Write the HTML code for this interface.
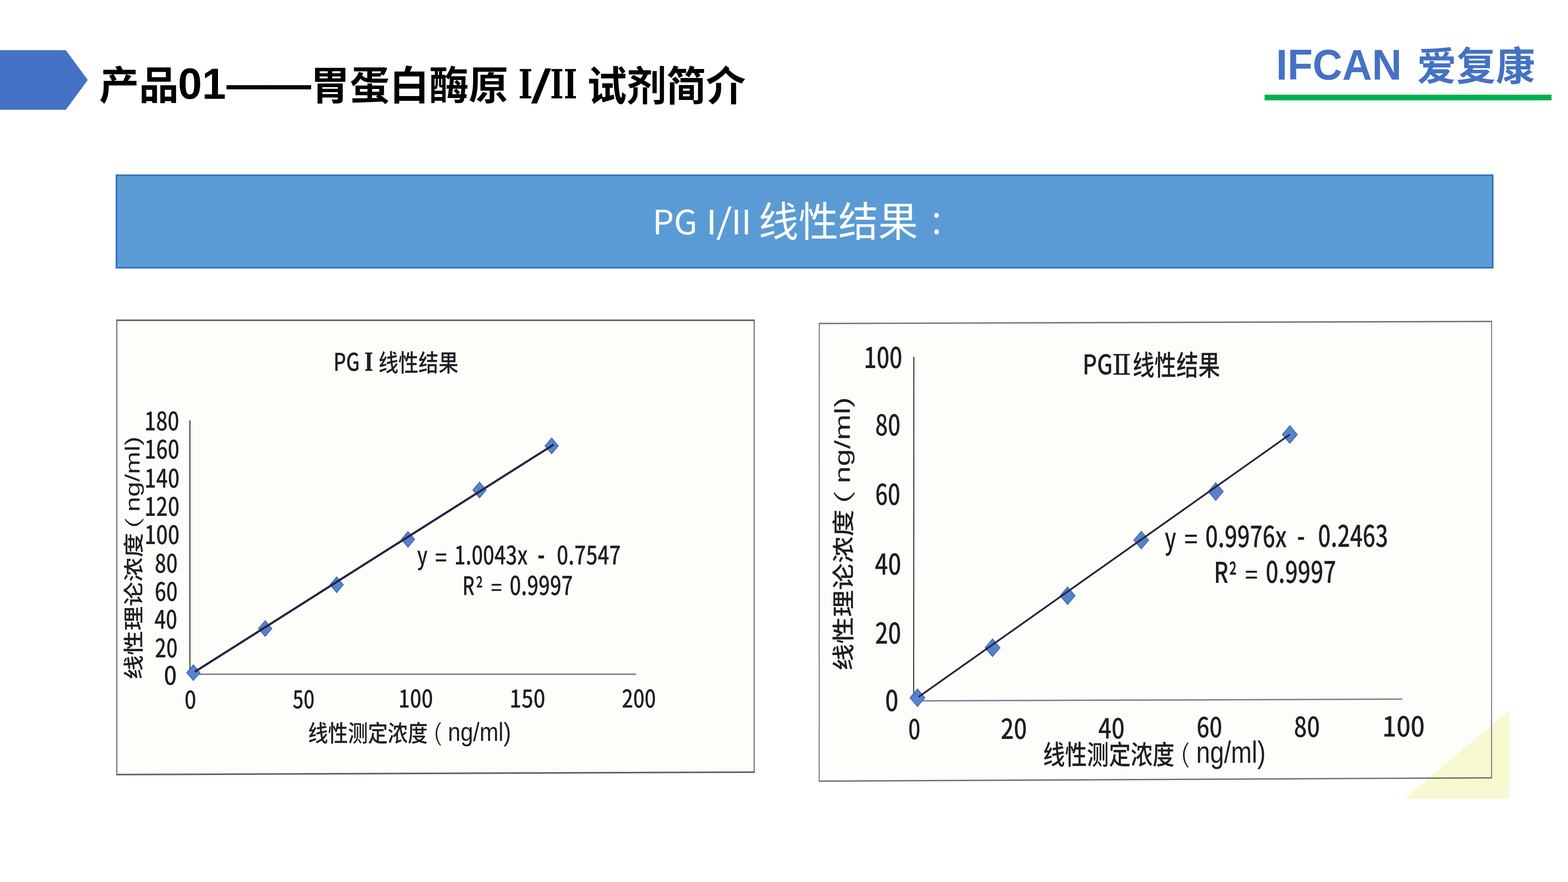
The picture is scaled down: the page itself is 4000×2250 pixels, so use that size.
<!DOCTYPE html>
<html lang="zh-CN"><head><meta charset="utf-8"><title>产品01——胃蛋白酶原 I/II 试剂简介</title>
<style>
html,body{margin:0;padding:0;background:#fff;}
#slide{position:relative;width:4000px;height:2250px;overflow:hidden;background:#fff;}
.bg{position:absolute;left:0;top:0;}
.t{position:absolute;left:0;top:0;transform-origin:0 0;}
</style></head><body>
<div id="slide">
<svg class="bg" width="4000" height="2250" viewBox="0 0 4000 2250">
<polygon points="0,128 168,128 224,204 168,280 0,280" fill="#4472C4"/>
<rect x="3226" y="241.5" width="732" height="14.5" fill="#00B050"/>
<rect x="297" y="447" width="3511" height="236" fill="#5B9BD5" stroke="#2E75B6" stroke-width="4"/>
<polygon points="298,817 1924,817 1924,1970 298,1976" fill="#fdfdfa"/>
<line x1="298" y1="817" x2="1924" y2="817" stroke="#5d6369" stroke-width="4"/><line x1="298" y1="1976" x2="1924" y2="1969.7" stroke="#5d6369" stroke-width="4"/><line x1="298" y1="815.0" x2="298" y2="1978.0" stroke="#5d6369" stroke-width="2.6"/><line x1="1924" y1="815.0" x2="1924" y2="1971.7" stroke="#5d6369" stroke-width="2.6"/>
<line x1="484.5" y1="1072.4" x2="484.5" y2="1720" stroke="#2a2a30" stroke-width="2.6"/>
<line x1="484" y1="1720" x2="1623" y2="1720" stroke="#7a7a82" stroke-width="3.5"/>
<polygon points="2090,825.2 3805,820 3805,1984.2 2089.7,1992.7" fill="#fdfdfa"/>
<polygon points="3581,2038 3850,1813 3850,2038" fill="#f8f9d0"/>
<polygon points="3805,1850 3850,1813 3850,1984 3805,1984" fill="#f8f9d0"/>
<line x1="2090" y1="825.2" x2="3805" y2="820" stroke="#66747c" stroke-width="3.4"/><line x1="2089.7" y1="1992.7" x2="3805" y2="1984.2" stroke="#66747c" stroke-width="3.4"/><line x1="2090" y1="823.5" x2="2089.7" y2="1994.4" stroke="#66747c" stroke-width="2.4"/><line x1="3805" y1="818.3" x2="3805" y2="1985.9" stroke="#66747c" stroke-width="2.4"/>
<line x1="2331.2" y1="910" x2="2330.8" y2="1788" stroke="#2a2a30" stroke-width="2.6"/>
<line x1="2331" y1="1788" x2="3577" y2="1783.5" stroke="#7a8090" stroke-width="3.5"/>
<g fill="#5583cc" stroke="#3f66ad" stroke-width="2">
<polygon points="493.2,1696.0 510.2,1716 493.2,1736.0 476.2,1716"/><polygon points="676.5,1583.4 693.5,1603.4 676.5,1623.4 659.5,1603.4"/><polygon points="858.9,1471.7 875.9,1491.7 858.9,1511.7 841.9,1491.7"/><polygon points="1040.8,1356.0 1057.8,1376 1040.8,1396.0 1023.8,1376"/><polygon points="1223.2,1230.1 1240.2,1250.1 1223.2,1270.1 1206.2,1250.1"/><polygon points="1407.3,1117.5 1424.3,1137.5 1407.3,1157.5 1390.3,1137.5"/>
<polygon points="2340.4,1757.5 2359.4,1780 2340.4,1802.5 2321.4,1780"/><polygon points="2532,1629.9 2551.0,1652.4 2532,1674.9 2513.0,1652.4"/><polygon points="2723.5,1497.2 2742.5,1519.7 2723.5,1542.2 2704.5,1519.7"/><polygon points="2911.4,1355.2 2930.4,1377.7 2911.4,1400.2 2892.4,1377.7"/><polygon points="3101.4,1231.5 3120.4,1254 3101.4,1276.5 3082.4,1254"/><polygon points="3290.4,1086.0 3309.4,1108.5 3290.4,1131.0 3271.4,1108.5"/>
</g>
<line x1="497.2" y1="1713.5" x2="1412.3" y2="1134.3" stroke="#28243f" stroke-width="5.5"/>
<line x1="2343.4" y1="1777.9" x2="3290.4" y2="1108.5" stroke="#28243f" stroke-width="4.5"/>
</svg>
<span class="t" style="font-family:'Liberation Sans','Noto Sans CJK SC',sans-serif;font-weight:700;font-size:100px;line-height:1;white-space:pre;color:#000;transform:translate(253.16px,168.71px) scale(1.0142,1.0083);">产品</span>
<span class="t" style="font-family:'Liberation Sans','Noto Sans CJK SC',sans-serif;font-weight:700;font-size:100px;line-height:1;white-space:pre;color:#000;transform:translate(453.90px,157.62px) scale(1.1010,1.1056);">01</span>
<span class="t" style="font-family:'Liberation Sans','Noto Sans CJK SC',sans-serif;font-weight:700;font-size:100px;line-height:1;white-space:pre;color:#000;transform:translate(577.80px,160.59px) scale(1.0800,1.0700);">——</span>
<span class="t" style="font-family:'Liberation Sans','Noto Sans CJK SC',sans-serif;font-weight:700;font-size:100px;line-height:1;white-space:pre;color:#000;transform:translate(791.68px,168.52px) scale(1.0101,1.0219);">胃蛋白酶原</span>
<span class="t" style="font-family:'DejaVu Serif',serif;font-weight:700;font-size:100px;line-height:1;white-space:pre;color:#000;transform:translate(1322.19px,163.31px) scale(0.7811,1.0329);">I</span>
<span class="t" style="font-family:'DejaVu Serif',serif;font-weight:700;font-size:100px;line-height:1;white-space:pre;color:#000;transform:translate(1355.00px,161.54px) scale(1.3944,1.0889);">/</span>
<span class="t" style="font-family:'DejaVu Serif',serif;font-weight:700;font-size:100px;line-height:1;white-space:pre;color:#000;transform:translate(1403.30px,163.31px) scale(0.7393,1.0329);">II</span>
<span class="t" style="font-family:'Liberation Sans','Noto Sans CJK SC',sans-serif;font-weight:700;font-size:100px;line-height:1;white-space:pre;color:#000;transform:translate(1497.85px,168.04px) scale(1.0104,1.0421);">试剂简介</span>
<span class="t" style="font-family:'Liberation Sans',sans-serif;font-weight:700;font-size:100px;line-height:1;white-space:pre;color:#4472C4;transform:translate(3255.25px,110.13px) scale(1.0493,1.0915);">IFCAN</span>
<span class="t" style="font-family:'Liberation Sans','Noto Sans CJK SC',sans-serif;font-weight:700;font-size:100px;line-height:1;white-space:pre;color:#4472C4;transform:translate(3614.99px,118.22px) scale(1.0034,1.0167);">爱复康</span>
<span class="t" style="font-family:'Noto Sans CJK SC',sans-serif;font-weight:400;font-size:100px;line-height:1;white-space:pre;color:#fff;transform:translate(1664.46px,518.78px) scale(0.8643,0.8566);">PG</span>
<span class="t" style="font-family:'Noto Sans CJK SC',sans-serif;font-weight:400;font-size:100px;line-height:1;white-space:pre;color:#fff;transform:translate(1801.57px,517.91px) scale(0.9333,0.8644);">I</span>
<span class="t" style="font-family:'Noto Sans CJK SC',sans-serif;font-weight:400;font-size:100px;line-height:1;white-space:pre;color:#fff;transform:translate(1826.96px,514.40px) scale(1.0389,0.8784);">/</span>
<span class="t" style="font-family:'Noto Sans CJK SC',sans-serif;font-weight:400;font-size:100px;line-height:1;white-space:pre;color:#fff;transform:translate(1865.83px,517.91px) scale(0.8667,0.8644);">II</span>
<span class="t" style="font-family:'Noto Sans CJK SC',sans-serif;font-weight:400;font-size:100px;line-height:1;white-space:pre;color:#fff;transform:translate(1935.32px,505.81px) scale(1.0166,1.0484);">线性结果</span>
<span class="t" style="font-family:'Noto Sans CJK SC',sans-serif;font-weight:400;font-size:100px;line-height:1;white-space:pre;color:#fff;transform:translate(2369.93px,518.46px) scale(0.7688,0.8600);">：</span>
<span class="t" style="font-family:'Noto Sans CJK SC',sans-serif;font-weight:500;font-size:100px;line-height:1;white-space:pre;color:#1e1e24;transform:translate(850.40px,887.46px) scale(0.5000,0.6303);">PG</span>
<span class="t" style="font-family:'DejaVu Serif',serif;font-weight:700;font-size:100px;line-height:1;white-space:pre;color:#1e1e24;transform:translate(929.59px,891.82px) scale(0.4811,0.6397);">Ⅰ</span>
<span class="t" style="font-family:'Noto Sans CJK SC',sans-serif;font-weight:500;font-size:100px;line-height:1;white-space:pre;color:#1e1e24;transform:translate(965.46px,890.91px) scale(0.5102,0.6117);">线性结果</span>
<span class="t" style="font-family:'Noto Sans CJK SC',sans-serif;font-weight:500;font-size:100px;line-height:1;white-space:pre;color:#1e1e24;transform:translate(368.22px,1037.45px) scale(0.5204,0.6553);">180</span>
<span class="t" style="font-family:'Noto Sans CJK SC',sans-serif;font-weight:500;font-size:100px;line-height:1;white-space:pre;color:#1e1e24;transform:translate(368.62px,1109.05px) scale(0.5204,0.6553);">160</span>
<span class="t" style="font-family:'Noto Sans CJK SC',sans-serif;font-weight:500;font-size:100px;line-height:1;white-space:pre;color:#1e1e24;transform:translate(368.60px,1183.00px) scale(0.5223,0.6553);">140</span>
<span class="t" style="font-family:'Noto Sans CJK SC',sans-serif;font-weight:500;font-size:100px;line-height:1;white-space:pre;color:#1e1e24;transform:translate(368.60px,1255.00px) scale(0.5223,0.6553);">120</span>
<span class="t" style="font-family:'Noto Sans CJK SC',sans-serif;font-weight:500;font-size:100px;line-height:1;white-space:pre;color:#1e1e24;transform:translate(368.60px,1327.50px) scale(0.5223,0.6553);">100</span>
<span class="t" style="font-family:'Noto Sans CJK SC',sans-serif;font-weight:500;font-size:100px;line-height:1;white-space:pre;color:#1e1e24;transform:translate(394.84px,1399.85px) scale(0.5125,0.6553);">80</span>
<span class="t" style="font-family:'Noto Sans CJK SC',sans-serif;font-weight:500;font-size:100px;line-height:1;white-space:pre;color:#1e1e24;transform:translate(394.84px,1471.85px) scale(0.5125,0.6553);">60</span>
<span class="t" style="font-family:'Noto Sans CJK SC',sans-serif;font-weight:500;font-size:100px;line-height:1;white-space:pre;color:#1e1e24;transform:translate(393.88px,1543.15px) scale(0.5103,0.6553);">40</span>
<span class="t" style="font-family:'Noto Sans CJK SC',sans-serif;font-weight:500;font-size:100px;line-height:1;white-space:pre;color:#1e1e24;transform:translate(395.37px,1615.75px) scale(0.5076,0.6553);">20</span>
<span class="t" style="font-family:'Noto Sans CJK SC',sans-serif;font-weight:500;font-size:100px;line-height:1;white-space:pre;color:#1e1e24;transform:translate(418.11px,1685.85px) scale(0.5787,0.6553);">0</span>
<span class="t" style="font-family:'Noto Sans CJK SC',sans-serif;font-weight:500;font-size:100px;line-height:1;white-space:pre;color:#1e1e24;transform:translate(470.78px,1750.39px) scale(0.5234,0.6203);">0</span>
<span class="t" style="font-family:'Noto Sans CJK SC',sans-serif;font-weight:500;font-size:100px;line-height:1;white-space:pre;color:#1e1e24;transform:translate(746.53px,1748.84px) scale(0.4906,0.6203);">50</span>
<span class="t" style="font-family:'Noto Sans CJK SC',sans-serif;font-weight:500;font-size:100px;line-height:1;white-space:pre;color:#1e1e24;transform:translate(1016.36px,1747.64px) scale(0.5159,0.6203);">100</span>
<span class="t" style="font-family:'Noto Sans CJK SC',sans-serif;font-weight:500;font-size:100px;line-height:1;white-space:pre;color:#1e1e24;transform:translate(1299.79px,1747.64px) scale(0.5344,0.6203);">150</span>
<span class="t" style="font-family:'Noto Sans CJK SC',sans-serif;font-weight:500;font-size:100px;line-height:1;white-space:pre;color:#1e1e24;transform:translate(1586.26px,1747.64px) scale(0.5093,0.6203);">200</span>
<span class="t" style="font-family:'Noto Sans CJK SC',sans-serif;font-weight:500;font-size:100px;line-height:1;white-space:pre;color:#1e1e24;transform:translate(785.97px,1836.44px) scale(0.5084,0.5937);">线性测定浓度</span>
<span class="t" style="font-family:'Noto Sans CJK SC',sans-serif;font-weight:300;font-size:100px;line-height:1;white-space:pre;color:#1e1e24;transform:translate(1104.11px,1834.42px) scale(0.7588,0.5980);">(</span>
<span class="t" style="font-family:'Liberation Sans',sans-serif;font-weight:400;font-size:100px;line-height:1;white-space:pre;color:#1e1e24;transform:translate(1142.43px,1833.67px) scale(0.5811,0.6606);">ng/ml)</span>
<span class="t" style="font-family:'Noto Sans CJK SC',sans-serif;font-weight:500;font-size:100px;line-height:1;white-space:pre;color:#1e1e24;transform:translate(1063.92px,1382.18px) scale(0.4902,0.6269);">y</span>
<span class="t" style="font-family:'Noto Sans CJK SC',sans-serif;font-weight:500;font-size:100px;line-height:1;white-space:pre;color:#1e1e24;transform:translate(1109.85px,1387.09px) scale(0.5367,0.6182);">=</span>
<span class="t" style="font-family:'Noto Sans CJK SC',sans-serif;font-weight:500;font-size:100px;line-height:1;white-space:pre;color:#1e1e24;transform:translate(1158.71px,1379.55px) scale(0.5104,0.6527);">1.0043x</span>
<span class="t" style="font-family:'Noto Sans CJK SC',sans-serif;font-weight:500;font-size:100px;line-height:1;white-space:pre;color:#1e1e24;transform:translate(1371.09px,1363.66px) scale(0.5423,0.8875);">-</span>
<span class="t" style="font-family:'Noto Sans CJK SC',sans-serif;font-weight:500;font-size:100px;line-height:1;white-space:pre;color:#1e1e24;transform:translate(1420.20px,1379.52px) scale(0.5193,0.6541);">0.7547</span>
<span class="t" style="font-family:'Noto Sans CJK SC',sans-serif;font-weight:500;font-size:100px;line-height:1;white-space:pre;color:#1e1e24;transform:translate(1179.56px,1457.50px) scale(0.4736,0.6527);">R</span>
<span class="t" style="font-family:'Noto Sans CJK SC',sans-serif;font-weight:500;font-size:100px;line-height:1;white-space:pre;color:#1e1e24;transform:translate(1213.39px,1467.31px) scale(0.4531,0.6467);">²</span>
<span class="t" style="font-family:'Noto Sans CJK SC',sans-serif;font-weight:500;font-size:100px;line-height:1;white-space:pre;color:#1e1e24;transform:translate(1252.21px,1467.71px) scale(0.4980,0.5485);">=</span>
<span class="t" style="font-family:'Noto Sans CJK SC',sans-serif;font-weight:500;font-size:100px;line-height:1;white-space:pre;color:#1e1e24;transform:translate(1299.93px,1455.32px) scale(0.5134,0.6689);">0.9997</span>
<span class="t" style="font-family:'Noto Sans CJK SC',sans-serif;font-weight:500;font-size:100px;line-height:1;white-space:pre;color:#1e1e24;transform:translate(310.98px,1733.49px) rotate(-90deg) scale(0.6233,0.5277);">线性理论浓度</span>
<span class="t" style="font-family:'Noto Sans CJK SC',sans-serif;font-weight:300;font-size:100px;line-height:1;white-space:pre;color:#1e1e24;transform:translate(312.72px,1352.26px) rotate(-90deg) scale(1.0765,0.4730);">(</span>
<span class="t" style="font-family:'Liberation Sans',sans-serif;font-weight:400;font-size:100px;line-height:1;white-space:pre;color:#1e1e24;transform:translate(311.11px,1305.85px) rotate(-90deg) scale(0.6928,0.5245);">ng/ml)</span>
<span class="t" style="font-family:'Noto Sans CJK SC',sans-serif;font-weight:500;font-size:100px;line-height:1;white-space:pre;color:#1e1e24;transform:translate(2761.48px,890.82px) scale(0.5720,0.6934);">PG</span>
<span class="t" style="font-family:'DejaVu Serif',serif;font-weight:400;font-size:100px;line-height:1;white-space:pre;color:#1e1e24;transform:translate(2836.61px,894.52px) scale(0.7321,0.7319);">Ⅱ</span>
<span class="t" style="font-family:'Noto Sans CJK SC',sans-serif;font-weight:500;font-size:100px;line-height:1;white-space:pre;color:#1e1e24;transform:translate(2889.16px,890.62px) scale(0.5588,0.7096);">线性结果</span>
<span class="t" style="font-family:'Noto Sans CJK SC',sans-serif;font-weight:500;font-size:100px;line-height:1;white-space:pre;color:#1e1e24;transform:translate(2203.42px,871.41px) scale(0.5758,0.7297);">100</span>
<span class="t" style="font-family:'Noto Sans CJK SC',sans-serif;font-weight:500;font-size:100px;line-height:1;white-space:pre;color:#1e1e24;transform:translate(2232.78px,1043.16px) scale(0.5644,0.7297);">80</span>
<span class="t" style="font-family:'Noto Sans CJK SC',sans-serif;font-weight:500;font-size:100px;line-height:1;white-space:pre;color:#1e1e24;transform:translate(2232.79px,1220.16px) scale(0.5615,0.7297);">60</span>
<span class="t" style="font-family:'Noto Sans CJK SC',sans-serif;font-weight:500;font-size:100px;line-height:1;white-space:pre;color:#1e1e24;transform:translate(2231.82px,1398.56px) scale(0.5888,0.7297);">40</span>
<span class="t" style="font-family:'Noto Sans CJK SC',sans-serif;font-weight:500;font-size:100px;line-height:1;white-space:pre;color:#1e1e24;transform:translate(2232.26px,1573.91px) scale(0.5848,0.7297);">20</span>
<span class="t" style="font-family:'Noto Sans CJK SC',sans-serif;font-weight:500;font-size:100px;line-height:1;white-space:pre;color:#1e1e24;transform:translate(2258.02px,1746.16px) scale(0.5957,0.7297);">0</span>
<span class="t" style="font-family:'Noto Sans CJK SC',sans-serif;font-weight:500;font-size:100px;line-height:1;white-space:pre;color:#1e1e24;transform:translate(2317.08px,1820.15px) scale(0.5447,0.7079);">0</span>
<span class="t" style="font-family:'Noto Sans CJK SC',sans-serif;font-weight:500;font-size:100px;line-height:1;white-space:pre;color:#1e1e24;transform:translate(2552.65px,1818.95px) scale(0.5886,0.7079);">20</span>
<span class="t" style="font-family:'Noto Sans CJK SC',sans-serif;font-weight:500;font-size:100px;line-height:1;white-space:pre;color:#1e1e24;transform:translate(2801.82px,1817.85px) scale(0.5888,0.7079);">40</span>
<span class="t" style="font-family:'Noto Sans CJK SC',sans-serif;font-weight:500;font-size:100px;line-height:1;white-space:pre;color:#1e1e24;transform:translate(3052.43px,1815.30px) scale(0.5740,0.7079);">60</span>
<span class="t" style="font-family:'Noto Sans CJK SC',sans-serif;font-weight:500;font-size:100px;line-height:1;white-space:pre;color:#1e1e24;transform:translate(3300.79px,1814.55px) scale(0.5827,0.7079);">80</span>
<span class="t" style="font-family:'Noto Sans CJK SC',sans-serif;font-weight:500;font-size:100px;line-height:1;white-space:pre;color:#1e1e24;transform:translate(3526.30px,1813.05px) scale(0.6331,0.7079);">100</span>
<span class="t" style="font-family:'Noto Sans CJK SC',sans-serif;font-weight:500;font-size:100px;line-height:1;white-space:pre;color:#1e1e24;transform:translate(2661.07px,1886.20px) scale(0.5586,0.6863);">线性测定浓度</span>
<span class="t" style="font-family:'Noto Sans CJK SC',sans-serif;font-weight:300;font-size:100px;line-height:1;white-space:pre;color:#1e1e24;transform:translate(3010.26px,1886.92px) scale(0.7941,0.6400);">(</span>
<span class="t" style="font-family:'Liberation Sans',sans-serif;font-weight:400;font-size:100px;line-height:1;white-space:pre;color:#1e1e24;transform:translate(3051.54px,1879.84px) scale(0.6377,0.7798);">ng/ml)</span>
<span class="t" style="font-family:'Noto Sans CJK SC',sans-serif;font-weight:500;font-size:100px;line-height:1;white-space:pre;color:#1e1e24;transform:translate(2971.13px,1330.10px) scale(0.5373,0.7474);">y</span>
<span class="t" style="font-family:'Noto Sans CJK SC',sans-serif;font-weight:500;font-size:100px;line-height:1;white-space:pre;color:#1e1e24;transform:translate(3021.08px,1337.68px) scale(0.6061,0.6697);">=</span>
<span class="t" style="font-family:'Noto Sans CJK SC',sans-serif;font-weight:500;font-size:100px;line-height:1;white-space:pre;color:#1e1e24;transform:translate(3074.77px,1326.13px) scale(0.5664,0.7486);">0.9976x</span>
<span class="t" style="font-family:'Noto Sans CJK SC',sans-serif;font-weight:500;font-size:100px;line-height:1;white-space:pre;color:#1e1e24;transform:translate(3308.72px,1320.58px) scale(0.5769,0.8250);">-</span>
<span class="t" style="font-family:'Noto Sans CJK SC',sans-serif;font-weight:500;font-size:100px;line-height:1;white-space:pre;color:#1e1e24;transform:translate(3362.36px,1324.46px) scale(0.5678,0.7568);">0.2463</span>
<span class="t" style="font-family:'Noto Sans CJK SC',sans-serif;font-weight:500;font-size:100px;line-height:1;white-space:pre;color:#1e1e24;transform:translate(3096.52px,1418.81px) scale(0.5679,0.7365);">R</span>
<span class="t" style="font-family:'Noto Sans CJK SC',sans-serif;font-weight:500;font-size:100px;line-height:1;white-space:pre;color:#1e1e24;transform:translate(3134.80px,1429.19px) scale(0.5000,0.7533);">²</span>
<span class="t" style="font-family:'Noto Sans CJK SC',sans-serif;font-weight:500;font-size:100px;line-height:1;white-space:pre;color:#1e1e24;transform:translate(3176.10px,1432.50px) scale(0.5755,0.6000);">=</span>
<span class="t" style="font-family:'Noto Sans CJK SC',sans-serif;font-weight:500;font-size:100px;line-height:1;white-space:pre;color:#1e1e24;transform:translate(3228.74px,1415.66px) scale(0.5711,0.7622);">0.9997</span>
<span class="t" style="font-family:'Noto Sans CJK SC',sans-serif;font-weight:500;font-size:100px;line-height:1;white-space:pre;color:#1e1e24;transform:translate(2118.73px,1710.64px) rotate(-90deg) scale(0.6846,0.5713);">线性理论浓度</span>
<span class="t" style="font-family:'Noto Sans CJK SC',sans-serif;font-weight:300;font-size:100px;line-height:1;white-space:pre;color:#1e1e24;transform:translate(2120.68px,1290.16px) rotate(-90deg) scale(1.2765,0.5270);">(</span>
<span class="t" style="font-family:'Liberation Sans',sans-serif;font-weight:400;font-size:100px;line-height:1;white-space:pre;color:#1e1e24;transform:translate(2120.27px,1233.25px) rotate(-90deg) scale(0.7928,0.5606);">ng/ml)</span>
</div>
</body></html>
